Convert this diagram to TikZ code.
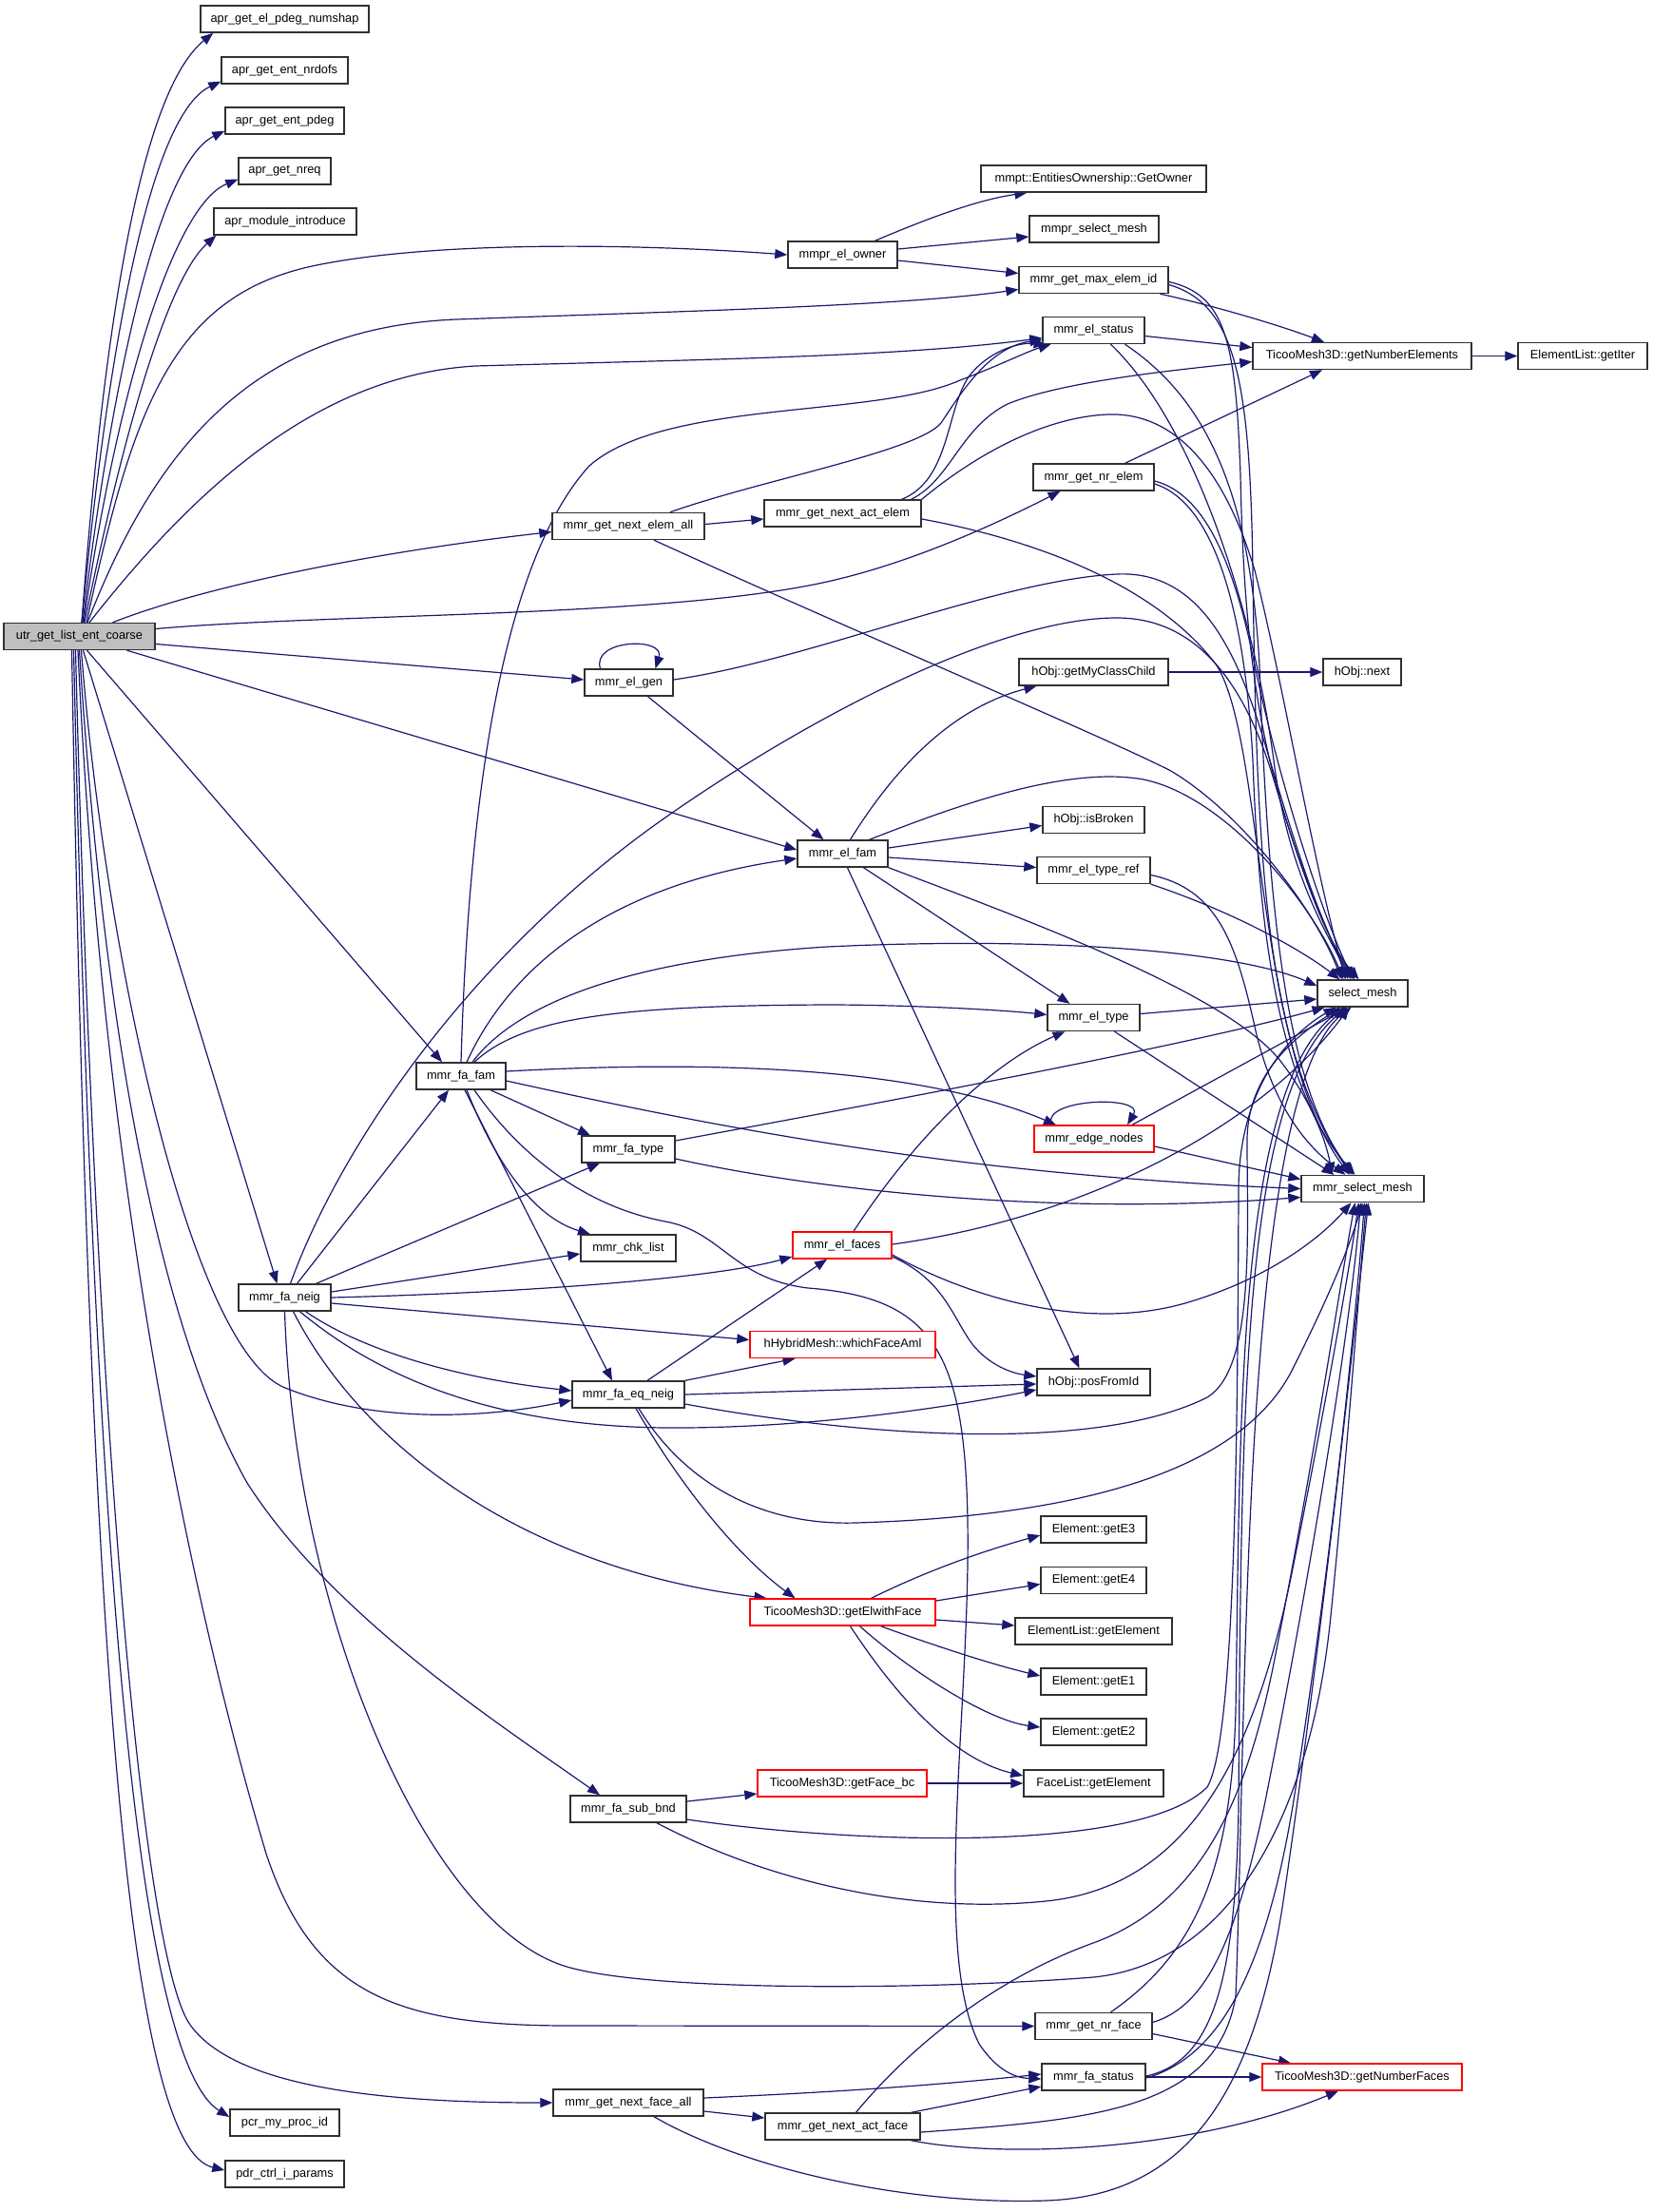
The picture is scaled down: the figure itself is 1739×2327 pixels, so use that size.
\documentclass[tikz,border=0pt]{standalone}
\usepackage{fontspec}
\setmainfont{Liberation Sans}
\usetikzlibrary{arrows.meta,backgrounds}
\definecolor{edgeblue}{HTML}{191970}
\definecolor{rootgray}{HTML}{BFBFBF}
\definecolor{boxline}{HTML}{303030}
\begin{document}
\begin{tikzpicture}[x=1pt,y=-1pt,
  box/.style={draw=boxline,line width=1.4pt,fill=white,inner sep=0pt,minimum height=28pt,font=\fontsize{12.8}{14}\selectfont},
  redbox/.style={box,draw=red},
  rootbox/.style={box,fill=rootgray},
  call/.style={draw=edgeblue,line width=1.2pt,-{Triangle[length=13pt,width=10pt]}},
]
\useasboundingbox (0,0) rectangle (1739,2327);
% ---------------- nodes ----------------
\node[rootbox,minimum width=159pt] (U) at (83.5,669.5) {utr\_get\_list\_ent\_coarse};
\node[box,minimum width=177pt] (a1) at (299.5,20) {apr\_get\_el\_pdeg\_numshap};
\node[box,minimum width=133pt] (a2) at (299.5,74) {apr\_get\_ent\_nrdofs};
\node[box,minimum width=125pt] (a3) at (299.5,127) {apr\_get\_ent\_pdeg};
\node[box,minimum width=97pt] (a4) at (299.5,180) {apr\_get\_nreq};
\node[box,minimum width=150pt] (a5) at (300,233) {apr\_module\_introduce};
\node[box,minimum width=115pt] (owner) at (886.5,268) {mmpr\_el\_owner};
\node[box,minimum width=237pt] (getowner) at (1150.5,188) {mmpt::EntitiesOwnership::GetOwner};
\node[box,minimum width=136pt] (mmprsel) at (1151,241) {mmpr\_select\_mesh};
\node[box,minimum width=157pt] (maxid) at (1150.5,294.5) {mmr\_get\_max\_elem\_id};
\node[box,minimum width=107pt] (elstatus) at (1150.5,347.5) {mmr\_el\_status};
\node[box,minimum width=230pt] (gne) at (1433,374.5) {TicooMesh3D::getNumberElements};
\node[box,minimum width=136pt] (getiter) at (1665,374.5) {ElementList::getIter};
\node[box,minimum width=127pt] (nrelem) at (1150.5,502) {mmr\_get\_nr\_elem};
\node[box,minimum width=160pt] (nextall) at (661,553.5) {mmr\_get\_next\_elem\_all};
\node[box,minimum width=165pt] (nextact) at (886.5,540) {mmr\_get\_next\_act\_elem};
\node[box,minimum width=93pt] (elgen) at (661.5,718) {mmr\_el\_gen};
\node[box,minimum width=157pt] (child) at (1150.5,707) {hObj::getMyClassChild};
\node[box,minimum width=82pt] (hnext) at (1433,707) {hObj::next};
\node[box,minimum width=107pt] (broken) at (1150.5,862.5) {hObj::isBroken};
\node[box,minimum width=95pt] (elfam) at (886.5,898) {mmr\_el\_fam};
\node[box,minimum width=119pt] (typeref) at (1150.5,915.5) {mmr\_el\_type\_ref};
\node[box,minimum width=95pt] (S) at (1433.5,1045) {select\_mesh};
\node[box,minimum width=97pt] (eltype) at (1150.5,1070.5) {mmr\_el\_type};
\node[box,minimum width=94pt] (fafam) at (485,1132) {mmr\_fa\_fam};
\node[redbox,minimum width=126pt] (enodes) at (1151,1198) {mmr\_edge\_nodes};
\node[box,minimum width=98pt] (fatype) at (661,1209) {mmr\_fa\_type};
\node[box,minimum width=129pt] (M) at (1433.5,1250.5) {mmr\_select\_mesh};
\node[redbox,minimum width=104pt] (elfaces) at (886,1310) {mmr\_el\_faces};
\node[box,minimum width=100pt] (chk) at (661,1313) {mmr\_chk\_list};
\node[box,minimum width=97pt] (faneig) at (299.5,1365) {mmr\_fa\_neig};
\node[redbox,minimum width=195pt] (which) at (886.5,1414.5) {hHybridMesh::whichFaceAml};
\node[box,minimum width=118pt] (eqneig) at (661,1467) {mmr\_fa\_eq\_neig};
\node[box,minimum width=119pt] (posid) at (1150.5,1454) {hObj::posFromId};
\node[box,minimum width=111pt] (e3) at (1150.5,1609) {Element::getE3};
\node[box,minimum width=111pt] (e4) at (1150.5,1662.5) {Element::getE4};
\node[redbox,minimum width=195pt] (elwf) at (886.5,1696) {TicooMesh3D::getElwithFace};
\node[box,minimum width=165pt] (elget) at (1150.5,1716) {ElementList::getElement};
\node[box,minimum width=111pt] (e1) at (1150.5,1769) {Element::getE1};
\node[box,minimum width=111pt] (e2) at (1150.5,1822) {Element::getE2};
\node[box,minimum width=147pt] (flget) at (1150.5,1876) {FaceList::getElement};
\node[redbox,minimum width=178pt] (fbc) at (886,1876) {TicooMesh3D::getFace\_bc};
\node[box,minimum width=122pt] (subbnd) at (661,1903) {mmr\_fa\_sub\_bnd};
\node[box,minimum width=123pt] (nrface) at (1150.5,2131.5) {mmr\_get\_nr\_face};
\node[box,minimum width=109pt] (fastatus) at (1150.5,2185) {mmr\_fa\_status};
\node[redbox,minimum width=210pt] (gnf) at (1433,2185) {TicooMesh3D::getNumberFaces};
\node[box,minimum width=158pt] (nextfall) at (661,2212) {mmr\_get\_next\_face\_all};
\node[box,minimum width=163pt] (nextaf) at (886.5,2237) {mmr\_get\_next\_act\_face};
\node[box,minimum width=115pt] (pcr) at (299.5,2233) {pcr\_my\_proc\_id};
\node[box,minimum width=125pt] (pdr) at (299.5,2287) {pdr\_ctrl\_i\_params};
% ---------------- edges ----------------
\begin{pgfonlayer}{background}
\fill[white] (0,0) rectangle (1739,2327);
% root
\draw[call] ([xshift=2.5pt]U.north) .. controls (110,330) and (150,95) .. ([xshift=14pt]a1.south west);
\draw[call] ([xshift=2.5pt]U.north) .. controls (115,350) and (160,120) .. ([yshift=3pt]a2.south west);
\draw[call] ([xshift=3.5pt]U.north) .. controls (120,380) and (170,170) .. ([yshift=4pt]a3.south west);
\draw[call] ([xshift=4.5pt]U.north) .. controls (125,400) and (185,215) .. ([yshift=6pt]a4.south west);
\draw[call] ([xshift=5.5pt]U.north) .. controls (135,430) and (180,290) .. ([xshift=3pt]a5.south west);
\draw[call] ([xshift=7.5pt]U.north) .. controls (140,430) and (180,310) .. (333,279) .. controls (450,255) and (650,255) .. (owner.west);
\draw[call] ([xshift=8.5pt]U.north) .. controls (160,480) and (260,345) .. (480,336) .. controls (700,328) and (950,322) .. ([yshift=-10pt]maxid.west);
\draw[call] ([xshift=10.5pt]U.north) .. controls (200,520) and (330,395) .. (500,385) .. controls (750,378) and (950,375) .. ([yshift=-8pt]elstatus.west);
\draw[call] ([xshift=35pt]U.north) .. controls (220,615) and (400,580) .. ([yshift=-6pt]nextall.west);
\draw[call] ([yshift=8pt]U.east) .. controls (350,645) and (700,650) .. (870,612) .. controls (960,592) and (1050,550) .. ([xshift=-35pt]nrelem.south);
\draw[call] ([yshift=-8pt]U.east) -- ([yshift=3pt]elgen.west);
\draw[call] ([xshift=50pt]U.south) -- ([yshift=4pt]elfam.west);
\draw[call] ([xshift=8pt]U.south) -- ([xshift=-20pt]fafam.north);
\draw[call] ([xshift=4pt]U.south) -- ([xshift=-8pt]faneig.north);
\draw[call] ([xshift=2pt]U.south) .. controls (110,1000) and (200,1420) .. (300,1460) .. controls (400,1500) and (520,1490) .. ([yshift=-6pt]eqneig.west);
\draw[call] (U.south) .. controls (110,1100) and (170,1400) .. (260,1560) .. controls (350,1700) and (520,1810) .. ([xshift=-30pt]subbnd.north);
\draw[call] ([xshift=-1.5pt]U.south) .. controls (110,1300) and (220,1750) .. (280,1950) .. controls (330,2100) and (420,2131) .. (600,2131) -- (nrface.west);
\draw[call] ([xshift=-4pt]U.south) .. controls (100,1500) and (150,2060) .. (200,2130) .. controls (250,2200) and (420,2212) .. (nextfall.west);
\draw[call] ([xshift=-6pt]U.south) .. controls (100,1700) and (150,2170) .. ([yshift=6pt]pcr.west);
\draw[call] ([xshift=-8pt]U.south) .. controls (95,1800) and (140,2260) .. ([yshift=4pt]pdr.west);
% owner
\draw[call] ([xshift=34pt]owner.north) .. controls (980,228) and (1030,210) .. ([xshift=-70pt]getowner.south);
\draw[call] ([yshift=6pt]owner.east) -- ([yshift=-8pt]mmprsel.west);
\draw[call] ([yshift=-6pt]owner.east) -- ([yshift=7pt]maxid.west);
% maxid
\draw[call] ([xshift=70pt]maxid.south) .. controls (1270,320) and (1340,340) .. ([xshift=-40pt]gne.north);
\draw[call] ([yshift=-2pt]maxid.east) .. controls (1290,310) and (1300,360) .. (1305,500) .. controls (1310,750) and (1340,850) .. ([xshift=-15pt]S.north);
\draw[call] ([yshift=-5pt]maxid.east) .. controls (1300,320) and (1315,400) .. (1318,600) .. controls (1322,900) and (1330,1100) .. ([xshift=-12pt]M.north);
% elstatus
\draw[call] ([yshift=-6pt]elstatus.east) -- ([yshift=9pt]gne.west);
\draw[call] ([xshift=18pt]elstatus.south) .. controls (1260,450) and (1320,650) .. (1340,800) .. controls (1355,920) and (1400,990) .. ([xshift=-12pt]S.north);
\draw[call] ([xshift=33pt]elstatus.south) .. controls (1270,420) and (1315,520) .. (1325,700) .. controls (1335,1000) and (1360,1150) .. ([xshift=-10pt]M.north);
\draw[call] (gne.east) -- (getiter.west);
% nrelem
\draw[call] ([xshift=33pt]nrelem.north) -- ([xshift=-42pt]gne.south);
\draw[call] ([yshift=-4pt]nrelem.east) .. controls (1270,520) and (1300,600) .. (1320,700) .. controls (1345,820) and (1390,960) .. ([xshift=-10pt]S.north);
\draw[call] ([yshift=-7pt]nrelem.east) .. controls (1280,530) and (1310,650) .. (1318,800) .. controls (1325,1000) and (1350,1150) .. ([xshift=-8pt]M.north);
% nextall
\draw[call] ([xshift=44pt]nextall.north) .. controls (800,505) and (965,475) .. (990,445) .. controls (1010,415) and (1040,365) .. ([yshift=-10pt]elstatus.west);
\draw[call] ([yshift=2pt]nextall.east) -- ([yshift=-6pt]nextact.west);
\draw[call] ([xshift=27pt]nextall.south) .. controls (900,665) and (1150,770) .. (1230,810) .. controls (1300,850) and (1380,950) .. ([xshift=-22pt]S.north);
% nextact
\draw[call] ([xshift=62pt]nextact.north) .. controls (1000,505) and (995,430) .. (1020,395) .. controls (1040,370) and (1070,360) .. ([xshift=-50pt]elstatus.south);
\draw[call] ([xshift=72pt]nextact.north) .. controls (1000,505) and (1010,450) .. (1060,425) .. controls (1120,400) and (1250,388) .. ([yshift=-6pt]gne.west);
\draw[call] (nextact.north east) .. controls (1000,500) and (1080,440) .. (1165,436) .. controls (1240,433) and (1290,500) .. (1320,600) .. controls (1350,720) and (1380,900) .. ([xshift=-18pt]S.north);
\draw[call] ([yshift=-6pt]nextact.east) .. controls (1100,570) and (1220,620) .. (1280,700) .. controls (1330,780) and (1320,1100) .. ([xshift=-14pt]M.north);
% elgen
\draw[call] ([xshift=-30pt]elgen.north) .. controls (622,672) and (700,670) .. ([xshift=28pt]elgen.north);
\draw[call] ([yshift=3pt]elgen.east) .. controls (850,695) and (1050,610) .. (1175,604) .. controls (1260,600) and (1300,680) .. (1330,780) .. controls (1360,880) and (1390,980) .. ([xshift=-8pt]S.north);
\draw[call] ([xshift=20pt]elgen.south) -- ([xshift=-20pt]elfam.north);
\draw[call] (child.east) -- (hnext.west);
% elfam
\draw[call] ([xshift=8pt]elfam.north) .. controls (940,810) and (1000,745) .. ([xshift=-60pt]child.south);
\draw[call] ([yshift=6pt]elfam.east) -- ([yshift=-6pt]broken.west);
\draw[call] ([yshift=-4pt]elfam.east) -- ([yshift=3pt]typeref.west);
\draw[call] ([xshift=28pt]elfam.north) .. controls (1000,850) and (1120,805) .. (1203,820) .. controls (1290,838) and (1380,950) .. ([xshift=-20pt]S.north);
\draw[call] ([xshift=22pt]elfam.south) -- ([xshift=-25pt]eltype.north);
\draw[call] (elfam.south east) .. controls (1100,975) and (1300,1050) .. (1350,1120) .. controls (1380,1160) and (1395,1200) .. ([xshift=-32pt]M.north);
\draw[call] ([xshift=5pt]elfam.south) -- ([xshift=-15pt]posid.north);
% typeref, eltype, edge nodes
\draw[call] (typeref.south east) .. controls (1300,960) and (1370,1000) .. ([xshift=-24pt]S.north);
\draw[call] ([yshift=-5pt]typeref.east) .. controls (1280,935) and (1300,990) .. (1320,1080) .. controls (1340,1170) and (1380,1210) .. ([xshift=-18pt]M.north);
\draw[call] ([yshift=4pt]eltype.east) -- ([yshift=-6pt]S.west);
\draw[call] ([xshift=22pt]eltype.south) -- ([xshift=-30pt]M.north);
\draw[call] ([xshift=-45pt]enodes.north) .. controls (1095,1155) and (1205,1152) .. ([xshift=35pt]enodes.north);
\draw[call] ([xshift=40pt]enodes.north) -- ([xshift=-16pt]S.south);
\draw[call] ([yshift=-8pt]enodes.east) -- ([yshift=10pt]M.west);
% fafam
\draw[call] (fafam.north) .. controls (492,880) and (520,600) .. (620,490) .. controls (700,420) and (920,440) .. (1010,400) .. controls (1050,385) and (1080,370) .. ([xshift=-45pt]elstatus.south);
\draw[call] ([xshift=6pt]fafam.north) .. controls (540,1010) and (650,930) .. ([yshift=-5pt]elfam.west);
\draw[call] ([xshift=12pt]fafam.north) .. controls (540,1060) and (650,1010) .. (870,996) .. controls (1100,985) and (1300,1000) .. ([yshift=8pt]S.west);
\draw[call] ([xshift=14pt]fafam.north) .. controls (550,1070) and (650,1058) .. (870,1057) .. controls (950,1057) and (1050,1062) .. ([yshift=3pt]eltype.west);
\draw[call] ([yshift=5pt]fafam.east) .. controls (700,1118) and (950,1115) .. ([xshift=-40pt]enodes.north);
\draw[call] ([yshift=-5pt]fafam.east) .. controls (750,1185) and (1000,1235) .. (M.west);
\draw[call] ([xshift=31pt]fafam.south) -- ([xshift=-40pt]fatype.north);
\draw[call] ([xshift=6pt]fafam.south) .. controls (520,1220) and (560,1280) .. ([xshift=-40pt]chk.north);
\draw[call] ([xshift=4pt]fafam.south) -- ([xshift=-17pt]eqneig.north);
\draw[call] ([xshift=14pt]fafam.south) .. controls (550,1220) and (620,1270) .. (700,1285) .. controls (760,1296) and (770,1345) .. (850,1355) .. controls (980,1365) and (1015,1420) .. (1018,1600) .. controls (1021,1800) and (980,2050) .. (1030,2150) .. controls (1050,2180) and (1070,2186) .. ([yshift=-2pt]fastatus.west);
% fatype
\draw[call] ([yshift=9pt]fatype.east) .. controls (900,1165) and (1250,1100) .. ([xshift=-40pt]S.south);
\draw[call] ([yshift=-10pt]fatype.east) .. controls (850,1250) and (1100,1280) .. ([yshift=-9pt]M.west);
% faneig
\draw[call] ([xshift=13pt]faneig.north) -- ([xshift=-13pt]fafam.south);
\draw[call] ([xshift=6pt]faneig.north) .. controls (360,1200) and (500,1000) .. (700,860) .. controls (850,755) and (1050,650) .. (1175,650) .. controls (1260,650) and (1310,720) .. (1340,820) .. controls (1370,920) and (1395,990) .. ([xshift=-4pt]S.north);
\draw[call] ([xshift=33pt]faneig.north) -- ([xshift=-30pt]fatype.south);
\draw[call] ([yshift=6pt]faneig.east) -- ([yshift=-6pt]chk.west);
\draw[call] (faneig.east) .. controls (550,1360) and (750,1345) .. ([yshift=-12pt]elfaces.west);
\draw[call] ([yshift=-6pt]faneig.east) -- ([yshift=5pt]which.west);
\draw[call] ([xshift=22pt]faneig.south) .. controls (380,1420) and (480,1450) .. ([yshift=4pt]eqneig.west);
\draw[call] ([xshift=16pt]faneig.south) .. controls (400,1450) and (520,1500) .. (700,1502) .. controls (850,1503) and (1000,1480) .. ([yshift=-8pt]posid.west);
\draw[call] ([xshift=9pt]faneig.south) .. controls (380,1520) and (550,1650) .. ([xshift=-80pt]elwf.north);
\draw[call] (faneig.south) .. controls (310,1700) and (450,2030) .. (600,2070) .. controls (700,2097) and (1000,2092) .. (1150,2080) .. controls (1300,2065) and (1380,1900) .. (1400,1700) .. controls (1420,1500) and (1430,1350) .. ([xshift=4pt]M.south);
% eqneig
\draw[call] ([xshift=20pt]eqneig.north) -- ([xshift=-16pt]elfaces.south);
\draw[call] (eqneig.north east) -- ([xshift=-50pt]which.south);
\draw[call] (eqneig.east) -- ([yshift=-2pt]posid.west);
\draw[call] ([yshift=-10pt]eqneig.east) .. controls (900,1510) and (1150,1530) .. (1270,1470) .. controls (1320,1440) and (1312,1300) .. (1312,1200) .. controls (1312,1120) and (1380,1080) .. ([xshift=-24pt]S.south);
\draw[call] ([xshift=8pt]eqneig.south) .. controls (720,1570) and (780,1640) .. ([xshift=-50pt]elwf.north);
\draw[call] ([xshift=11pt]eqneig.south) .. controls (720,1560) and (800,1605) .. (900,1602) .. controls (1100,1596) and (1300,1560) .. (1360,1440) .. controls (1400,1360) and (1420,1310) .. (M.south);
% elfaces
\draw[call] ([xshift=12pt]elfaces.north) .. controls (960,1200) and (1040,1120) .. ([xshift=-30pt]eltype.south);
\draw[call] ([yshift=1pt]elfaces.east) .. controls (1150,1280) and (1330,1180) .. ([xshift=-14pt]S.south);
\draw[call] ([yshift=-10pt]elfaces.east) .. controls (1030,1370) and (1150,1400) .. (1250,1370) .. controls (1350,1340) and (1400,1290) .. ([xshift=-12pt]M.south);
\draw[call] ([yshift=-12pt]elfaces.east) .. controls (990,1345) and (1000,1380) .. (1020,1410) .. controls (1035,1432) and (1060,1444) .. ([yshift=6pt]posid.west);
% elwf
\draw[call] ([xshift=30pt]elwf.north) .. controls (980,1650) and (1040,1630) .. ([yshift=-6pt]e3.west);
\draw[call] ([yshift=12pt]elwf.east) -- ([yshift=-4pt]e4.west);
\draw[call] ([yshift=-8pt]elwf.east) -- ([yshift=6pt]elget.west);
\draw[call] ([xshift=40pt]elwf.south) .. controls (980,1730) and (1040,1750) .. ([yshift=6pt]e1.west);
\draw[call] ([xshift=18pt]elwf.south) .. controls (960,1760) and (1040,1810) .. ([yshift=5pt]e2.west);
\draw[call] ([xshift=8pt]elwf.south) .. controls (940,1780) and (1000,1850) .. ([yshift=8pt]flget.west);
\draw[call] (fbc.east) -- (flget.west);
% subbnd
\draw[call] ([yshift=8pt]subbnd.east) -- ([yshift=-11pt]fbc.west);
\draw[call] ([yshift=-11pt]subbnd.east) .. controls (900,1940) and (1200,1950) .. (1270,1880) .. controls (1300,1830) and (1302,1500) .. (1303,1250) .. controls (1304,1130) and (1370,1080) .. ([xshift=-28pt]S.south);
\draw[call] ([xshift=30pt]subbnd.south) .. controls (800,1975) and (950,2015) .. (1100,2000) .. controls (1250,1985) and (1320,1850) .. (1360,1650) .. controls (1400,1450) and (1420,1330) .. ([xshift=-4pt]M.south);
% nrface
\draw[call] ([xshift=18pt]nrface.north) .. controls (1250,2060) and (1295,1980) .. (1300,1800) .. controls (1305,1500) and (1300,1150) .. ([xshift=-20pt]S.south);
\draw[call] ([yshift=4pt]nrface.east) .. controls (1270,2110) and (1300,2040) .. (1330,1900) .. controls (1380,1650) and (1420,1400) .. ([xshift=-2pt]M.south);
\draw[call] ([yshift=-8pt]nrface.east) -- ([xshift=-75pt]gnf.north);
% fastatus
\draw[call] (fastatus.east) -- (gnf.west);
\draw[call] ([yshift=1pt]fastatus.east) .. controls (1270,2170) and (1300,2100) .. (1303,1900) .. controls (1306,1500) and (1305,1150) .. ([xshift=-16pt]S.south);
\draw[call] ([yshift=-1pt]fastatus.east) .. controls (1280,2165) and (1330,2080) .. (1360,1900) .. controls (1400,1650) and (1425,1400) .. ([xshift=2pt]M.south);
% nextfall
\draw[call] ([yshift=5pt]nextfall.east) .. controls (900,2200) and (1000,2192) .. ([yshift=3pt]fastatus.west);
\draw[call] ([yshift=-9pt]nextfall.east) -- ([yshift=9pt]nextaf.west);
\draw[call] ([xshift=27pt]nextfall.south) .. controls (780,2280) and (950,2320) .. (1100,2315) .. controls (1250,2310) and (1320,2200) .. (1350,2000) .. controls (1390,1730) and (1425,1400) .. ([xshift=6pt]M.south);
% nextaf
\draw[call] ([xshift=72pt]nextaf.north) -- ([yshift=-10pt]fastatus.west);
\draw[call] ([yshift=-6pt]nextaf.east) .. controls (1150,2230) and (1280,2220) .. (1300,2100) .. controls (1312,1800) and (1305,1150) .. ([xshift=-12pt]S.south);
\draw[call] ([xshift=14pt]nextaf.north) .. controls (960,2150) and (1050,2080) .. (1150,2044) .. controls (1260,2004) and (1310,1900) .. (1340,1750) .. controls (1380,1550) and (1410,1350) .. ([xshift=-8pt]M.south);
\draw[call] ([xshift=72pt]nextaf.south) .. controls (1050,2270) and (1250,2265) .. ([xshift=-25pt]gnf.south);
\end{pgfonlayer}
\end{tikzpicture}
\end{document}
